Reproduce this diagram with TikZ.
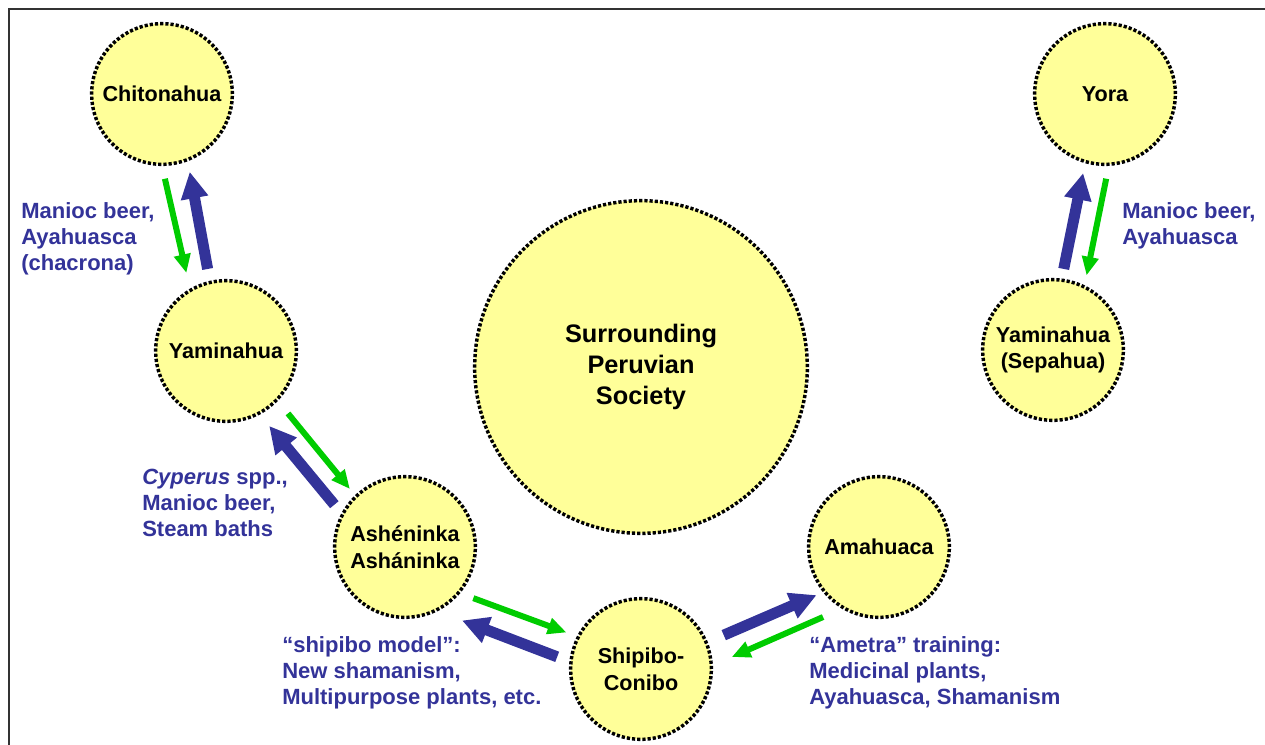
\documentclass[tikz,border=0pt]{standalone}
\usepackage{fontspec}
\setmainfont{Liberation Sans}
\usetikzlibrary{arrows.meta}

\definecolor{tribefill}{HTML}{FFFF99}
\definecolor{flowblue}{HTML}{333399}
\definecolor{flowgreen}{HTML}{00CC00}

\begin{document}
\begin{tikzpicture}[x=0.75pt, y=-0.75pt,
    tribe/.style={circle, draw, fill=tribefill, line width=2.6pt, dash pattern=on 2.4pt off 1.5pt, minimum size=105.5pt, inner sep=0pt, align=center, font=\fontsize{16.2}{20}\selectfont\bfseries},
    society/.style={tribe, minimum size=249.5pt, font=\fontsize{19}{23.25}\selectfont\bfseries},
    bluearrow/.style={-{Triangle[length=20pt,width=19.5pt]}, line width=8.25pt, flowblue},
    greenarrow/.style={-{Triangle[length=14pt,width=12pt]}, line width=4.5pt, flowgreen},
    exchange/.style={text=flowblue, align=left, anchor=west, inner sep=0pt, font=\fontsize{16.5}{19.5}\selectfont\bfseries}
]
\useasboundingbox (0,0) rectangle (1265,745);

% Frame
\draw[line width=1.5pt, black!80] (9,745) -- (9,9) -- (1265,9);

% Groups
\node[society] at (641,367) (sur) {Surrounding\\Peruvian\\Society};
\node[tribe] at (162,94) (chit) {Chitonahua};
\node[tribe] at (226,351) (yam) {Yaminahua};
\node[tribe] at (405,547) (ash) {Ashéninka\\Asháninka};
\node[tribe] at (641,669) (ship) {Shipibo-\\Conibo};
\node[tribe] at (879,547) (ama) {Amahuaca};
\node[tribe] at (1105,94) (yora) {Yora};
\node[tribe] at (1053,350) (sep) {Yaminahua\\(Sepahua)};

% Exchanges
\draw[greenarrow, shorten <=9.75pt, shorten >=12pt] (chit.-90) -- (yam.120);
\draw[bluearrow, shorten <=9pt, shorten >=8pt] (yam.103) -- (chit.-69);

\draw[bluearrow, shorten <=7.3pt, shorten >=7.5pt] (sep.83.5) -- (yora.-106);
\draw[greenarrow, shorten <=9.75pt, shorten >=7.5pt] (yora.-87) -- (sep.64);

\draw[greenarrow, shorten <=12pt, shorten >=6pt] (yam.-44) -- (ash.134.5);
\draw[bluearrow, shorten <=8.25pt, shorten >=11pt] (ash.152) -- (yam.-62);

\draw[greenarrow, shorten <=10.5pt, shorten >=8.25pt] (ash.-40.6) -- (ship.153);
\draw[bluearrow, shorten <=9.75pt, shorten >=19.5pt] (ship.174) -- (ash.-63.5);

\draw[bluearrow, shorten <=13pt, shorten >=5.25pt] (ship.22) -- (ama.-141.5);
\draw[greenarrow, shorten <=15.4pt, shorten >=15.4pt] (ama.-121) -- (ship.3.7);

% Labels
\node[exchange] at (21,239) (chitlbl) {Manioc beer,\\Ayahuasca\\(chacrona)};
\node[exchange] at (1122,226) (yoralbl) {Manioc beer,\\Ayahuasca};
\node[exchange] at (142,503) (ashlbl) {\textit{Cyperus} spp.,\\Manioc beer,\\Steam baths};
\node[exchange] at (282,673) (shiplbl) {“shipibo model”:\\New shamanism,\\Multipurpose plants, etc.};
\node[exchange] at (809,673) (amalbl) {“Ametra” training:\\Medicinal plants,\\Ayahuasca, Shamanism};

\end{tikzpicture}
\end{document}
